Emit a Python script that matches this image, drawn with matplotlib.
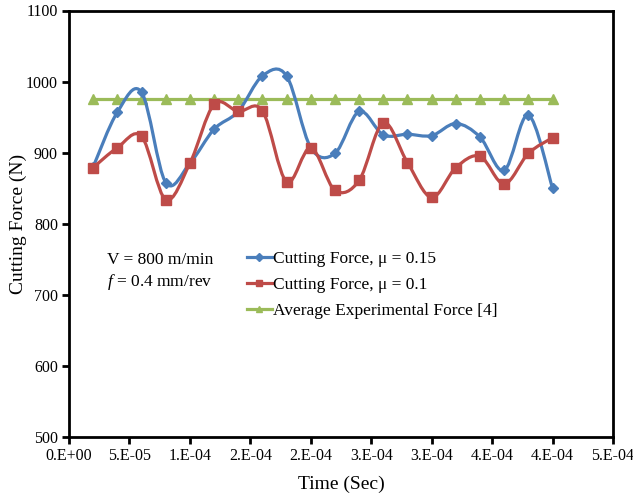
import numpy as np
import matplotlib
matplotlib.use("Agg")
import matplotlib.pyplot as plt
from matplotlib.path import Path
from matplotlib.patches import PathPatch
from matplotlib.lines import Line2D

# --- data ----------------------------------------------------------------------
time_s = [2e-5, 4e-5, 6e-5, 8e-5, 1.0e-4, 1.2e-4, 1.4e-4, 1.6e-4, 1.8e-4, 2.0e-4,
          2.2e-4, 2.4e-4, 2.6e-4, 2.8e-4, 3.0e-4, 3.2e-4, 3.4e-4, 3.6e-4, 3.8e-4, 4.0e-4]
force_mu015 = [880, 957, 985, 858, 885, 933, 958, 1008, 1008, 907,
               899, 958, 925, 926, 924, 941, 922, 875, 953, 850]
force_mu010 = [879, 907, 923, 834, 885, 968, 958, 959, 859, 907,
               847, 861, 942, 886, 837, 879, 895, 856, 899, 921]
force_exp = [976] * len(time_s)

xticks = [0, 5e-5, 1e-4, 1.5e-4, 2e-4, 2.5e-4, 3e-4, 3.5e-4, 4e-4, 4.5e-4]
xtick_labels = ["0.E+00", "5.E-05", "1.E-04", "2.E-04", "2.E-04",
                "3.E-04", "3.E-04", "4.E-04", "4.E-04", "5.E-04"]

BLUE = "#4A7EBB"
RED = "#BE4B48"
GREEN = "#9BBB59"

plt.rcParams["font.family"] = ["Liberation Serif", "DejaVu Serif"]
plt.rcParams["mathtext.fontset"] = "custom"
plt.rcParams["mathtext.it"] = "Liberation Serif:italic"
plt.rcParams["mathtext.rm"] = "Liberation Serif"


# --- helper: excel-style smoothed line (catmull-rom as cubic bezier) ------------
def smooth_path(x, y):
    x = np.asarray(x, float)
    y = np.asarray(y, float)
    px = np.r_[x[0], x, x[-1]]
    py = np.r_[y[0], y, y[-1]]
    verts = [(x[0], y[0])]
    codes = [Path.MOVETO]
    for i in range(1, len(x)):
        c1 = (px[i] + (px[i + 1] - px[i - 1]) / 6, py[i] + (py[i + 1] - py[i - 1]) / 6)
        c2 = (px[i + 1] - (px[i + 2] - px[i]) / 6, py[i + 1] - (py[i + 2] - py[i]) / 6)
        verts += [c1, c2, (px[i + 1], py[i + 1])]
        codes += [Path.CURVE4] * 3
    return Path(verts, codes)


fig = plt.figure(figsize=(6.33, 4.93), dpi=100)
ax = fig.add_axes([69 / 633, 1 - 437 / 493, 544 / 633, 426.5 / 493])

for yv, col, mk, ms in [(force_mu015, BLUE, "D", 5),
                        (force_mu010, RED, "s", 7)]:
    ax.add_patch(PathPatch(smooth_path(time_s, yv), facecolor="none",
                           edgecolor=col, lw=2.3, zorder=3))
    ax.plot(time_s, yv, linestyle="none", marker=mk, ms=ms, color=col, zorder=4)

ax.plot(time_s, force_exp, color=GREEN, lw=2.3, marker="^", ms=7, zorder=2)

ax.set_xlim(0, 4.5e-4)
ax.set_ylim(500, 1100)
ax.set_xticks(xticks)
ax.set_xticklabels(xtick_labels)
ax.set_yticks(range(500, 1101, 100))
ax.tick_params(direction="out", length=5, width=2, labelsize=11.5, pad=3)
for s in ax.spines.values():
    s.set_linewidth(2)

ax.set_xlabel("Time (Sec)", fontsize=14, labelpad=8)
ax.set_ylabel("Cutting Force (N)", fontsize=14, labelpad=-1)

handles = [
    Line2D([], [], color=BLUE, lw=2.3, marker="D", ms=4),
    Line2D([], [], color=RED, lw=2.3, marker="s", ms=5),
    Line2D([], [], color=GREEN, lw=2.3, marker="^", ms=5),
]
labels = ["Cutting Force, \u03bc = 0.15", "Cutting Force, \u03bc = 0.1",
          "Average Experimental Force [4]"]
ax.legend(handles, labels, loc="upper left", bbox_to_anchor=(0.315, 0.452),
          frameon=False, fontsize=12.5, handlelength=1.4, handletextpad=0.1,
          labelspacing=0.55, borderaxespad=0)

ax.text(0.07, 0.434, "V = 800 m/min\n$\\mathit{f}$ = 0.4 mm/rev", transform=ax.transAxes,
        fontsize=12.5, va="top", ha="left", linespacing=1.3)

fig.savefig("out.png", dpi=100)
